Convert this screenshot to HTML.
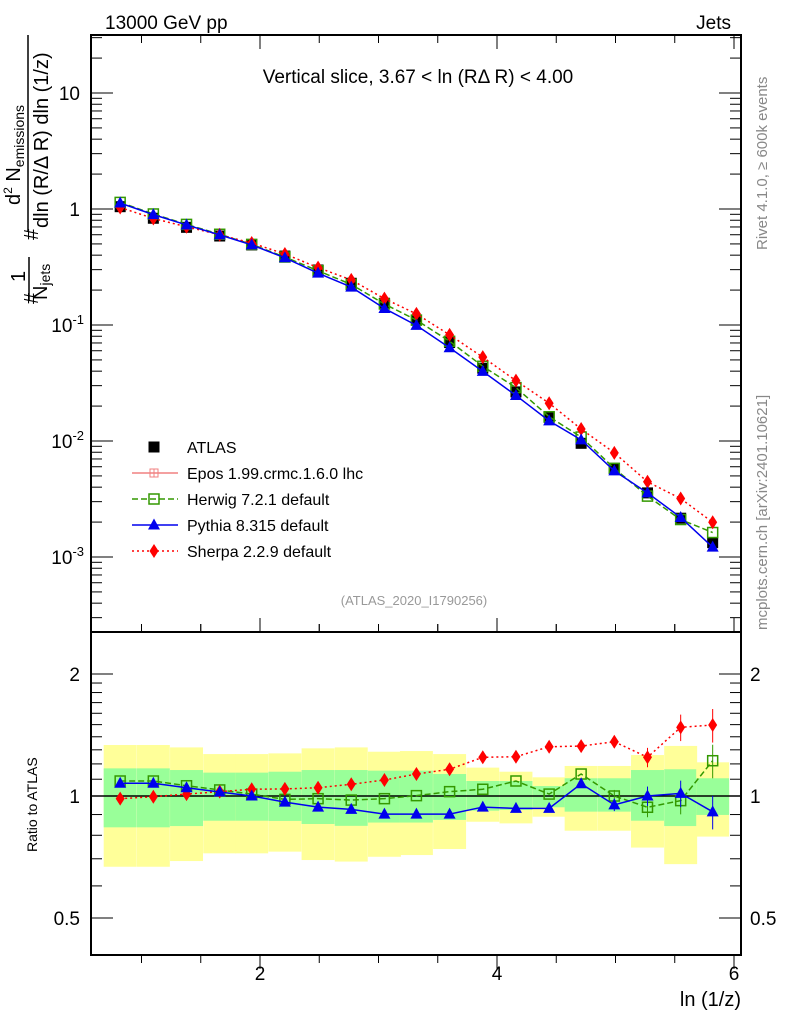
<!DOCTYPE html>
<html><head><meta charset="utf-8"><style>
body{margin:0;background:#fff;}
svg{display:block;font-family:"Liberation Sans",sans-serif;}
</style></head><body>
<svg id="c" width="786" height="1024" viewBox="0 0 786 1024">
<rect x="0" y="0" width="786" height="1024" fill="#fff"/>
<g id="bands"></g>
<g id="marks"></g>
<g id="axes"></g>
<text x="105" y="29" font-size="19">13000 GeV pp</text>
<text x="731" y="29" font-size="19" text-anchor="end">Jets</text>
<text x="418" y="83" font-size="19" text-anchor="middle">Vertical slice, 3.67 &lt; ln (RΔ R) &lt; 4.00</text>
<text x="414" y="605" font-size="13" fill="#999" text-anchor="middle">(ATLAS_2020_I1790256)</text>
<text transform="translate(767,250) rotate(-90)" font-size="15" fill="#888">Rivet 4.1.0, ≥ 600k events</text>
<text transform="translate(767,630) rotate(-90)" font-size="15" fill="#888">mcplots.cern.ch [arXiv:2401.10621]</text>
<g font-size="20">
<text transform="translate(38,304) rotate(-90)">#</text>
<text transform="translate(25,282) rotate(-90)">1</text>
<line x1="29" y1="300" x2="29" y2="257" stroke="#000" stroke-width="1.5"/>
<text transform="translate(47,300) rotate(-90)">N<tspan font-size="14" dy="3">jets</tspan></text>
<text transform="translate(38,240) rotate(-90)">#</text>
<text transform="translate(20,205) rotate(-90)">d<tspan font-size="12" dy="-8">2</tspan><tspan dy="8"> N</tspan><tspan font-size="14" dy="4">emissions</tspan></text>
<line x1="28" y1="232" x2="28" y2="35" stroke="#000" stroke-width="1.5"/>
<text transform="translate(48,228) rotate(-90)">dln (R/Δ R) dln (1/z)</text>
</g>
<text transform="translate(37,852) rotate(-90)" font-size="14">Ratio to ATLAS</text>
<text x="741" y="1006" font-size="20" text-anchor="end">ln (1/z)</text>
<g id="legend"></g>
</svg>
<script>
const xs=[0.82,1.10,1.38,1.66,1.93,2.21,2.49,2.77,3.05,3.32,3.60,3.88,4.16,4.44,4.71,4.99,5.27,5.55,5.82];
const atlas=[1.047,0.832,0.695,0.585,0.490,0.393,0.298,0.229,0.154,0.110,0.0706,0.0424,0.0265,0.0160,0.00955,0.00581,0.00357,0.00216,0.00133];
const ratioPythia=[1.075,1.075,1.048,1.023,1.0,0.966,0.939,0.927,0.902,0.902,0.902,0.939,0.932,0.932,1.072,0.951,1.0,1.015,0.914];
const ratioHerwig=[1.089,1.089,1.060,1.035,1.011,0.981,0.985,0.977,0.985,1.002,1.025,1.039,1.089,1.011,1.133,1.0,0.938,0.974,1.222];
const ratioSherpa=[0.985,0.996,1.011,1.025,1.039,1.041,1.048,1.069,1.095,1.133,1.164,1.246,1.250,1.323,1.328,1.361,1.246,1.477,1.497];
const yelUp=[1.336,1.336,1.318,1.269,1.269,1.274,1.311,1.318,1.286,1.291,1.269,1.175,1.148,1.112,1.186,1.186,1.262,1.329,1.211];
const yelDn=[0.669,0.669,0.691,0.722,0.722,0.729,0.695,0.689,0.708,0.715,0.740,0.864,0.856,0.889,0.821,0.821,0.746,0.679,0.794];
const grnUp=[1.170,1.170,1.159,1.142,1.142,1.148,1.159,1.159,1.155,1.155,1.133,1.089,1.089,1.058,1.106,1.106,1.159,1.164,1.106];
const grnDn=[0.837,0.837,0.843,0.869,0.869,0.868,0.853,0.844,0.860,0.860,0.873,0.920,0.924,0.938,0.915,0.915,0.869,0.843,0.898];
const binW=0.278;
const X=v=>23+118.5*v;
const Ym=v=>209-116*Math.log10(v);
const Yr=v=>796-122*Math.log2(v);
const NS='http://www.w3.org/2000/svg';
function mk(p,tag,at){const e=document.createElementNS(NS,tag);for(const k in at)e.setAttribute(k,at[k]);p.appendChild(e);return e;}
const bands=document.getElementById('bands'),marks=document.getElementById('marks'),axes=document.getElementById('axes'),leg=document.getElementById('legend');
xs.forEach((x,i)=>{
 const x0=X(x-binW/2),w=X(x+binW/2)-x0;
 let r=mk(bands,'rect',{x:x0,y:Yr(yelUp[i]),width:w,height:Yr(yelDn[i])-Yr(yelUp[i]),fill:'#ffff99'});
 
 
 r=mk(bands,'rect',{x:x0,y:Yr(grnUp[i]),width:w,height:Yr(grnDn[i])-Yr(grnUp[i]),fill:'#99ff99'});
 
 
});
mk(bands,'line',{x1:91,x2:741,y1:Yr(1),y2:Yr(1),stroke:'#000','stroke-width':1.5});
function marker(g,type,cx,cy,col){
 if(type==='sq')return mk(g,'rect',{x:cx-5.5,y:cy-5.5,width:11,height:11,fill:'#000'});
 if(type==='osq')return mk(g,'rect',{x:cx-5,y:cy-5,width:10,height:10,fill:'none',stroke:col,'stroke-width':1.5});
 if(type==='tri')return mk(g,'polygon',{points:`${cx},${cy-6.5} ${cx-6},${cy+4.5} ${cx+6},${cy+4.5}`,fill:col});
 if(type==='dia')return mk(g,'polygon',{points:`${cx},${cy-7} ${cx-4.5},${cy} ${cx},${cy+7} ${cx+4.5},${cy}`,fill:col});
}
const series=[
 {name:'herwig',r:ratioHerwig,col:'#339900',dash:'6,3',m:'osq'},
 {name:'sherpa',r:ratioSherpa,col:'#ff0000',dash:'2,3',m:'dia'},
 {name:'pythia',r:ratioPythia,col:'#0000ee',dash:'',m:'tri'}
];
const ga=mk(marks,'g',{});


xs.forEach((x,i)=>{const e=marker(ga,'sq',X(x),Ym(atlas[i]));});
series.forEach(s=>{
 const g=mk(marks,'g',{});
 
 
 const pm=xs.map((x,i)=>X(x)+','+Ym(atlas[i]*s.r[i])).join(' ');
 const pr=xs.map((x,i)=>X(x)+','+Yr(s.r[i])).join(' ');
 mk(g,'polyline',{points:pm,fill:'none',stroke:s.col,'stroke-width':1.5,'stroke-dasharray':s.dash});
 mk(g,'polyline',{points:pr,fill:'none',stroke:s.col,'stroke-width':1.5,'stroke-dasharray':s.dash});
 xs.forEach((x,i)=>{
  let e=marker(g,s.m,X(x),Ym(atlas[i]*s.r[i]),s.col);
  
  
  e=marker(g,s.m,X(x),Yr(s.r[i]),s.col);
  
  
  if(i>=15){const err=0.035+0.02*(i-15);mk(g,'line',{x1:X(x),x2:X(x),y1:Yr(s.r[i]*(1+err)),y2:Yr(s.r[i]*(1-err)),stroke:s.col,'stroke-width':1});}
 });
});
mk(axes,'rect',{x:91,y:35,width:650,height:597,fill:'none',stroke:'#000','stroke-width':2});
mk(axes,'rect',{x:91,y:632,width:650,height:323,fill:'none',stroke:'#000','stroke-width':2});
for(let d=-4;d<=1;d++){
 for(let k=1;k<10;k++){
  const v=k*Math.pow(10,d),y=Ym(v);if(y<35||y>632)continue;
  const L=k===1?22:11;
  mk(axes,'line',{x1:91,x2:91+L,y1:y,y2:y,stroke:'#000'});
  mk(axes,'line',{x1:741,x2:741-L,y1:y,y2:y,stroke:'#000'});
 }
}
const mainLabels=[[10,'10'],[1,'1']];
mainLabels.forEach(([v,t])=>{const e=mk(axes,'text',{x:80,y:Ym(v)+7,'font-size':19,'text-anchor':'end'});e.textContent=t;});
[-1,-2,-3].forEach(d=>{const e=mk(axes,'text',{x:84,y:Ym(Math.pow(10,d))+7,'font-size':19,'text-anchor':'end'});e.innerHTML='10<tspan font-size="13" dy="-8">'+d+'</tspan>';});
const rt=[0.5,0.6,0.7,0.8,0.9,1,1.1,1.2,1.3,1.4,1.5,1.6,1.7,1.8,1.9,2];
rt.forEach(v=>{const y=Yr(v),L=(v===0.5||v===1||v===2)?22:11;
 mk(axes,'line',{x1:91,x2:91+L,y1:y,y2:y,stroke:'#000'});mk(axes,'line',{x1:741,x2:741-L,y1:y,y2:y,stroke:'#000'});});
[[2,'2'],[1,'1'],[0.5,'0.5']].forEach(([v,t])=>{
 let e=mk(axes,'text',{x:80,y:Yr(v)+7,'font-size':19,'text-anchor':'end'});e.textContent=t;
 e=mk(axes,'text',{x:750,y:Yr(v)+7,'font-size':19});e.textContent=t;});
for(let v=1;v<=6;v+=0.5){const x=X(v);if(x<91||x>741)continue;const L=Number.isInteger(v/2)?14:8;
 [[632,1],[955,-1]].forEach(([y,s])=>{mk(axes,'line',{x1:x,x2:x,y1:y,y2:y-s*L,stroke:'#000'});});
 [[35,1],[632,-1]].forEach(([y,s])=>{mk(axes,'line',{x1:x,x2:x,y1:y,y2:y+s*L,stroke:'#000'});});
}
[2,4,6].forEach(v=>{const e=mk(axes,'text',{x:X(v),y:980,'font-size':19,'text-anchor':'middle'});e.textContent=String(v);});
const legItems=[['ATLAS','sq','#000',''],['Epos 1.99.crmc.1.6.0 lhc','cross','#f08080',''],['Herwig 7.2.1 default','osq','#339900','6,3'],['Pythia 8.315 default','tri','#0000ee',''],['Sherpa 2.2.9 default','dia','#ff0000','2,3']];
legItems.forEach((it,i)=>{const y=447+26*i;const g=mk(leg,'g',{});
 
 
 if(it[0]!=='ATLAS')mk(g,'line',{x1:132,x2:178,y1:y,y2:y,stroke:it[2],'stroke-width':1.5,'stroke-dasharray':it[3]});
 if(it[1]==='cross'){mk(g,'rect',{x:150,y:y-4,width:8,height:8,fill:'none',stroke:it[2]});mk(g,'line',{x1:154,x2:154,y1:y-4,y2:y+4,stroke:it[2]});}
 else marker(g,it[1],154,y,it[2]);
 const t=mk(g,'text',{x:187,y:y+6,'font-size':16});t.textContent=it[0];});
</script>
</body></html>
